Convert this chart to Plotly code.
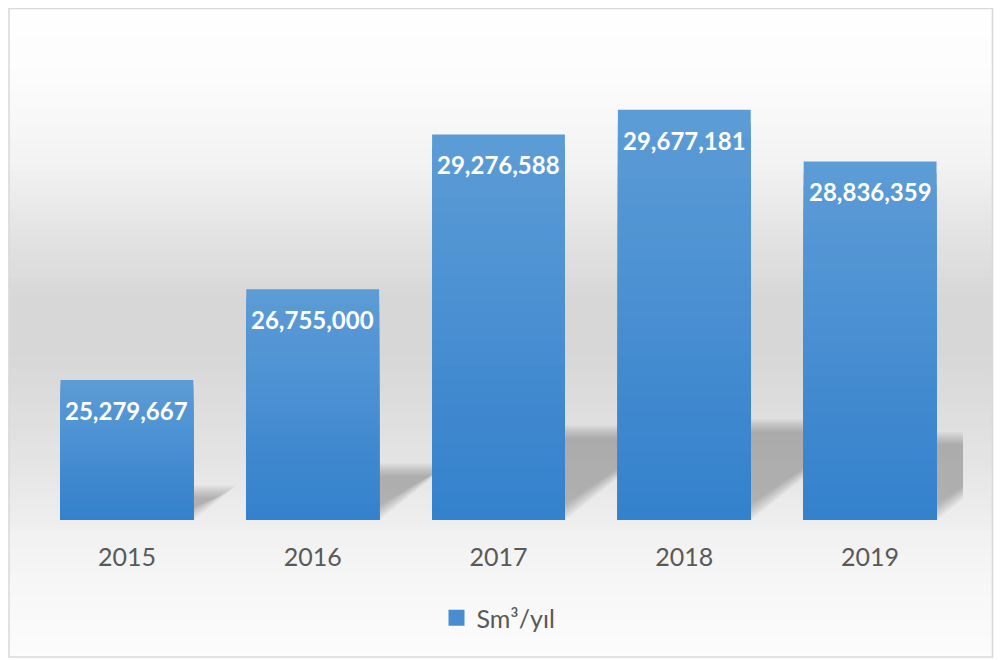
import plotly.graph_objects as go

years = ["2015", "2016", "2017", "2018", "2019"]
values = [25279667, 26755000, 29276588, 29677181, 28836359]
series_name = "Sm³/yıl"

Y_MIN, Y_MAX = 23000000, 30000000
OFF = 8  # page body margin
W, H = 1004 - OFF, 660 - OFF
# plot area in page pixels: x 33.5..963.5, y 90..520
ML = 33.5 - OFF
MT = 90 - OFF
MR = W - (963.5 - OFF)
MB = H - (520 - OFF)
PW, PH = W - ML - MR, H - MT - MB

xs = list(range(len(years)))
BAR_W = 0.715

def px2paper_y(py):  # page pixel -> paper
    return ((520 - py)) / PH

def px2paper_x(px):
    return (px - 33.5) / PW

fig = go.Figure()

# gradient bar slices (bottom darker, top lighter)
N = 30
c_bot = (51, 128, 204)
c_top = (92, 156, 214)
for k in range(N):
    frac = (N - k) / N
    col = tuple(int(round(c_bot[i] + (c_top[i] - c_bot[i]) * frac)) for i in range(3))
    fig.add_trace(go.Bar(
        x=xs,
        y=[(v - Y_MIN) * frac for v in values],
        base=[Y_MIN] * len(values),
        width=BAR_W,
        marker=dict(color="rgb(%d,%d,%d)" % col, line=dict(width=0)),
        showlegend=False,
        hoverinfo="skip",
    ))

# legend entry
fig.add_trace(go.Scatter(
    x=[None], y=[None], mode="markers", name=series_name,
    marker=dict(symbol="square", size=16, color="#4a8cd0"),
    showlegend=True,
))

shapes = []
# background gradient (page pixel rows)
stops = [(0, 255), (80, 252), (160, 243), (240, 226), (300, 215), (350, 215),
         (400, 220), (460, 228), (510, 236), (540, 242), (600, 248), (657, 252)]
def gray_at(py):
    for (a, ga), (b, gb) in zip(stops[:-1], stops[1:]):
        if a <= py <= b:
            return ga + (gb - ga) * (py - a) / (b - a)
    return stops[-1][1]
step = 6
py = OFF
while py < 657:
    g = int(round(gray_at(py + step / 2)))
    shapes.append(dict(type="rect", xref="paper", yref="paper", layer="below",
                       x0=px2paper_x(OFF), x1=px2paper_x(993),
                       y0=px2paper_y(py), y1=px2paper_y(min(py + step, 657)),
                       fillcolor="rgb(%d,%d,%d)" % (g, g, g), line=dict(width=0)))
    py += step

# perspective shadows derived from bar values (blurred via layers)
px_per_cat = PW / len(years)
px_per_val = PH / (Y_MAX - Y_MIN)
for x, v in zip(xs, values):
    h_px = 0.245 * (v - Y_MIN) * px_per_val
    dx_px = 1.25 * h_px
    for k in range(7):
        inset = k * 2.0
        xl = x - BAR_W / 2 + inset / px_per_cat
        xr = x + BAR_W / 2 - inset / px_per_cat
        yb = Y_MIN + (inset * 0.6) / px_per_val
        yt = Y_MIN + (h_px - inset) / px_per_val
        sh = (dx_px - inset * 0.6) / px_per_cat
        path = "M %f,%f L %f,%f L %f,%f L %f,%f Z" % (
            xl, yb, xr, yb, xr + sh, yt, xl + sh, yt)
        shapes.append(dict(type="path", xref="x", yref="y", layer="below",
                           path=path, fillcolor="rgba(95,95,95,0.065)",
                           line=dict(width=0)))

# outer frame
shapes.append(dict(type="rect", xref="paper", yref="paper", layer="above",
                   x0=px2paper_x(OFF + 0.5), x1=px2paper_x(993),
                   y0=px2paper_y(OFF + 0.5), y1=px2paper_y(657),
                   line=dict(color="#d9d9d9", width=1.5), fillcolor="rgba(0,0,0,0)"))

annotations = []
for x, v in zip(xs, values):
    annotations.append(dict(x=x, y=v, xref="x", yref="y", text=f"{v:,}",
                            showarrow=False, yanchor="top", yshift=-14,
                            font=dict(family="Lato", size=24, color="white", weight="bold")))

fig.update_layout(
    width=W, height=H,
    margin=dict(l=ML, r=MR, t=MT, b=MB, pad=0),
    paper_bgcolor="white",
    plot_bgcolor="rgba(0,0,0,0)",
    barmode="overlay",
    shapes=shapes,
    annotations=annotations,
    showlegend=True,
    legend=dict(orientation="h", x=0.5, xanchor="center", y=px2paper_y(618), yanchor="middle",
                font=dict(family="Lato", size=25, color="#595959"),
                bgcolor="rgba(0,0,0,0)", itemsizing="trace"),
    xaxis=dict(range=[-0.5, len(years) - 0.5], tickvals=xs, ticktext=years,
               showgrid=False, zeroline=False, showline=False,
               ticks="", ticklabelstandoff=20,
               tickfont=dict(family="Lato", size=25, color="#595959")),
    yaxis=dict(range=[Y_MIN, Y_MAX], visible=False, showgrid=False),
    hovermode=False,
)

fig.write_html("out.html")
